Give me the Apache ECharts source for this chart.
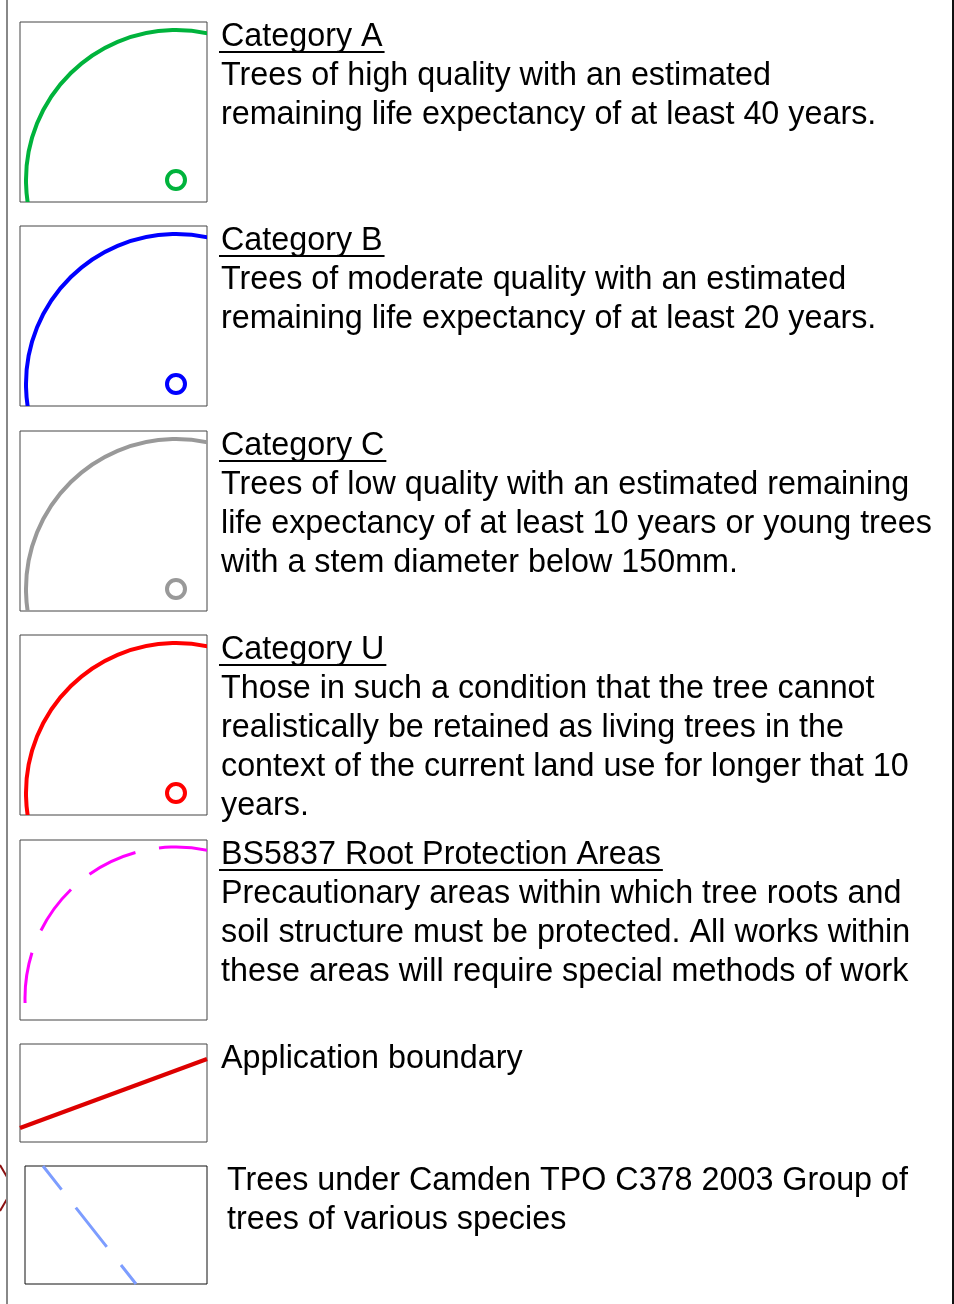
<!DOCTYPE html>
<html>
<head>
<meta charset="utf-8">
<script src="https://cdn.jsdelivr.net/npm/echarts@6/dist/echarts.min.js"></script>
<style>
html,body{margin:0;padding:0;background:#fff;}
#main{width:954px;height:1304px;}
</style>
</head>
<body>
<div id="main"></div>
<script>
// ---- legend content ----
const headers = ['Category A', 'Category B', 'Category C', 'Category U', 'BS5837 Root Protection Areas', '', ''];
const descriptions = [
  ['Trees of high quality with an estimated', 'remaining life expectancy of at least 40 years.'],
  ['Trees of moderate quality with an estimated', 'remaining life expectancy of at least 20 years.'],
  ['Trees of low quality with an estimated remaining', 'life expectancy of at least 10 years or young trees', 'with a stem diameter below 150mm.'],
  ['Those in such a condition that the tree cannot', 'realistically be retained as living trees in the', 'context of the current land use for longer that 10', 'years.'],
  ['Precautionary areas within which tree roots and', 'soil structure must be protected. All works within', 'these areas will require special methods of work'],
  ['Application boundary'],
  ['Trees under Camden TPO C378 2003 Group of', 'trees of various species']
];
const symbolColors = ['#00b33c', '#0000ff', '#999999', '#ff0000', '#ff00ff', '#dd0000', '#7d9dff'];
// tree symbol: [centre x, centre y, crown radius] in swatch units (swatch = 187 x 180)
const treeSymbols = [[156, 22, 150], [156, 22, 150], [156, 22, 150], [156, 22, 150]];
const rpaArc = [[156, 22, 151]];
const boundaryLine = [[0, 14], [187, 83]];
const tpoLine = [[18, 118], [111, 0]];

// ---- layout ----
const boxes = [
  {left: 20, top: 22, width: 187, height: 180},
  {left: 20, top: 226, width: 187, height: 180},
  {left: 20, top: 431, width: 187, height: 180},
  {left: 20, top: 635, width: 187, height: 180},
  {left: 20, top: 840, width: 187, height: 180},
  {left: 20, top: 1044, width: 187, height: 98},
  {left: 25, top: 1166, width: 182, height: 118}
];
const FONT = '"Liberation Sans", Arial, sans-serif';
const FS = 32.3;
const LH = 39;

const grid = boxes.map((b, i) => ({
  left: b.left, top: b.top, width: b.width, height: b.height,
  show: true, borderColor: i === 6 ? '#111' : '#444', borderWidth: 1, backgroundColor: '#fff', containLabel: false
}));
const xAxis = boxes.map((b, i) => ({type: 'value', gridIndex: i, min: 0, max: b.width, show: false}));
const yAxis = boxes.map((b, i) => ({type: 'value', gridIndex: i, min: 0, max: b.height, show: false}));

const series = [];
treeSymbols.forEach((t, i) => {
  series.push({
    type: 'custom', xAxisIndex: i, yAxisIndex: i, clip: true,
    data: [t],
    renderItem: function (params, api) {
      const c = api.coord([api.value(0), api.value(1)]);
      const r = api.size([api.value(2), 0])[0];
      return {
        type: 'group', children: [
          {type: 'arc', shape: {cx: c[0], cy: c[1], r: r, startAngle: Math.PI - 0.4, endAngle: 2 * Math.PI, clockwise: true},
            style: {stroke: symbolColors[i], lineWidth: 4, fill: null}},
          {type: 'circle', shape: {cx: c[0], cy: c[1], r: 9},
            style: {stroke: symbolColors[i], lineWidth: 4, fill: null}}
        ]
      };
    }
  });
});
series.push({
  type: 'custom', xAxisIndex: 4, yAxisIndex: 4, clip: true,
  data: rpaArc,
  renderItem: function (params, api) {
    const c = api.coord([api.value(0), api.value(1)]);
    const r = api.size([api.value(2), 0])[0];
    return {type: 'arc', shape: {cx: c[0], cy: c[1], r: r, startAngle: Math.PI - 0.033, endAngle: 2 * Math.PI, clockwise: true},
      style: {stroke: symbolColors[4], lineWidth: 3, fill: null, lineDash: [51, 24]}};
  }
});
series.push({
  type: 'line', xAxisIndex: 5, yAxisIndex: 5, data: boundaryLine, symbol: 'none', silent: true,
  lineStyle: {color: symbolColors[5], width: 4}
});
series.push({
  type: 'line', xAxisIndex: 6, yAxisIndex: 6, data: tpoLine, symbol: 'none', silent: true,
  lineStyle: {color: symbolColors[6], width: 3, type: [50, 23], dashOffset: 20}
});

// ---- text ----
const mctx = document.createElement('canvas').getContext('2d');
mctx.font = FS + 'px ' + FONT;
const graphic = [];
// page edge lines
graphic.push({type: 'line', shape: {x1: 7, y1: 0, x2: 7, y2: 1304}, style: {stroke: '#888', lineWidth: 2}, z: 10});
graphic.push({type: 'line', shape: {x1: 953, y1: 0, x2: 953, y2: 1304}, style: {stroke: '#111', lineWidth: 2}, z: 10});
graphic.push({type: 'polyline', shape: {points: [[0, 1165], [7, 1177]]}, style: {stroke: '#8b1010', lineWidth: 2, fill: null}, z: 9});
graphic.push({type: 'polyline', shape: {points: [[7, 1199], [0, 1211]]}, style: {stroke: '#8b1010', lineWidth: 2, fill: null}, z: 9});

boxes.forEach((b, i) => {
  const tx = i === 6 ? 227 : 221;
  let y = b.top + 15;
  if (headers[i]) {
    graphic.push({type: 'text', x: tx, y: y, style: {text: headers[i], font: FS + 'px ' + FONT, fill: '#000', verticalAlign: 'middle', align: 'left'}});
    const w = mctx.measureText(headers[i]).width;
    graphic.push({type: 'line', shape: {x1: tx - 2, y1: y + 15, x2: tx + w + 2, y2: y + 15}, style: {stroke: '#000', lineWidth: 2}});
    y += LH;
  }
  descriptions[i].forEach(line => {
    graphic.push({type: 'text', x: tx, y: y, style: {text: line, font: FS + 'px ' + FONT, fill: '#000', verticalAlign: 'middle', align: 'left'}});
    y += LH;
  });
});

const chart = echarts.init(document.getElementById('main'), null, {renderer: 'canvas'});
chart.setOption({
  animation: false,
  backgroundColor: '#fff',
  grid: grid, xAxis: xAxis, yAxis: yAxis, series: series, graphic: graphic
});
</script>
</body>
</html>
